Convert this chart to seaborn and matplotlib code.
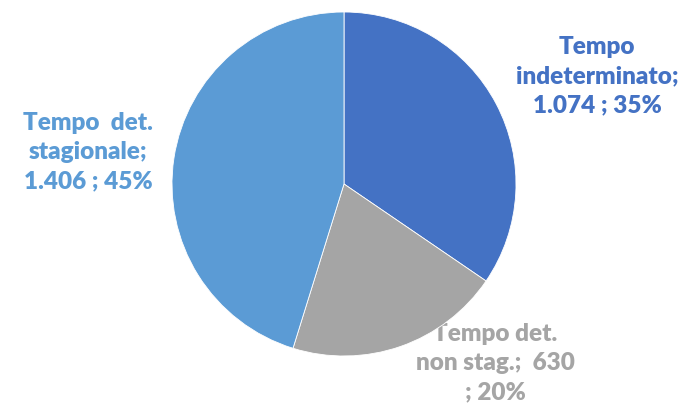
import matplotlib
matplotlib.use("Agg")
import matplotlib.pyplot as plt
import seaborn as sns

sns.set_theme(style="white")
plt.rcParams['font.family'] = ['Lato', 'DejaVu Sans']

# data
categories = ["Tempo indeterminato", "Tempo det. non stag.", "Tempo det. stagionale"]
values = [1074, 630, 1406]
label_texts = ["Tempo\nindeterminato;\n1.074 ; 35%",
               "Tempo det.\nnon stag.;  630\n; 20%",
               "Tempo  det.\nstagionale;\n1.406 ; 45%"]
colors = ["#4472C4", "#A5A5A5", "#5B9BD5"]

W, H = 682, 408
fig = plt.figure(figsize=(W / 100, H / 100), dpi=100)
cx, cy, r = 344, 408 - 184, 172
ax = fig.add_axes([(cx - r) / W, (cy - r) / H, 2 * r / W, 2 * r / H])

ax.pie(values, colors=colors, startangle=90, counterclock=False,
       wedgeprops=dict(linewidth=0.6, edgecolor="white"))
ax.set_aspect("equal")
ax.set_xlim(-1, 1)
ax.set_ylim(-1, 1)

# label centres in pixel coords (from top-left)
label_pos = [(597, 76), (495, 363), (88, 152)]
for txt, (px, py), c in zip(label_texts, label_pos, colors):
    ax.text(px / W, 1 - py / H, txt, transform=fig.transFigure,
            ha="center", va="center", color=c, fontsize=17.5,
            fontweight="heavy", linespacing=1.38, zorder=0.5, clip_on=False)

fig.savefig("out.png", dpi=100)
